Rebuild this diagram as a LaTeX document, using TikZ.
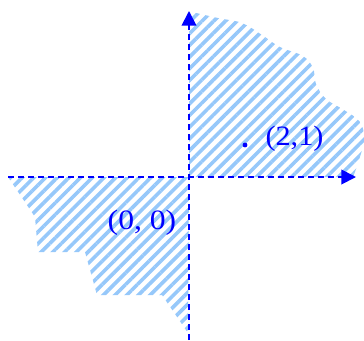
\documentclass[tikz,border=0pt]{standalone}
\usepackage{fontspec}
\setmainfont{Liberation Serif}
\usetikzlibrary{patterns.meta,arrows.meta}
\definecolor{hatchblue}{RGB}{150,200,250}
\begin{document}
\begin{tikzpicture}[x=0.75pt,y=-0.75pt,
  hatch/.style={pattern={Lines[angle=45,distance=6.2pt,line width=2.7pt]},pattern color=hatchblue},
  axis/.style={draw=blue,line width=1.4pt,dash pattern=on 4.5pt off 3pt,-{Triangle[length=11pt,width=11pt]}},
  lbl/.style={text=blue,inner sep=0pt,font=\fontsize{21}{24}\selectfont},
  dotnode/.style={circle,fill=blue,inner sep=0pt,minimum size=3.6pt}]
\useasboundingbox (0,0) rectangle (364,340);
% hatched regions
\fill[hatch] (189,177) -- (189,12) --
  plot[smooth,tension=0.6] coordinates {(192,12) (218,18) (242,23) (262,35) (280,47) (303,56) (313,68) (316,84) (326,99) (344,110) (360,122) (364,140) (358,163) (353,177)}
  -- cycle;
\fill[hatch] (189,177) -- (8,177) -- (35,217) -- (38,252) -- (85,252) -- (97,295) -- (162,295) -- (188,333) -- cycle;
% axes
\coordinate (xs) at (8,177);
\coordinate (xe) at (356,177);
\coordinate (ys) at (189,340);
\coordinate (ye) at (189,11);
\draw[axis] (xs) -- (xe);
\draw[axis] (ys) -- (ye);
% labels
\node[dotnode] (p) at (245,145) {};
\node[lbl] (l21) at (294.5,139) {\scalebox{1.08}[1]{(2,1)}};
\node[lbl] (l00) at (142,222.5) {\scalebox{1.13}[1]{(0, 0)}};
\end{tikzpicture}
\end{document}
